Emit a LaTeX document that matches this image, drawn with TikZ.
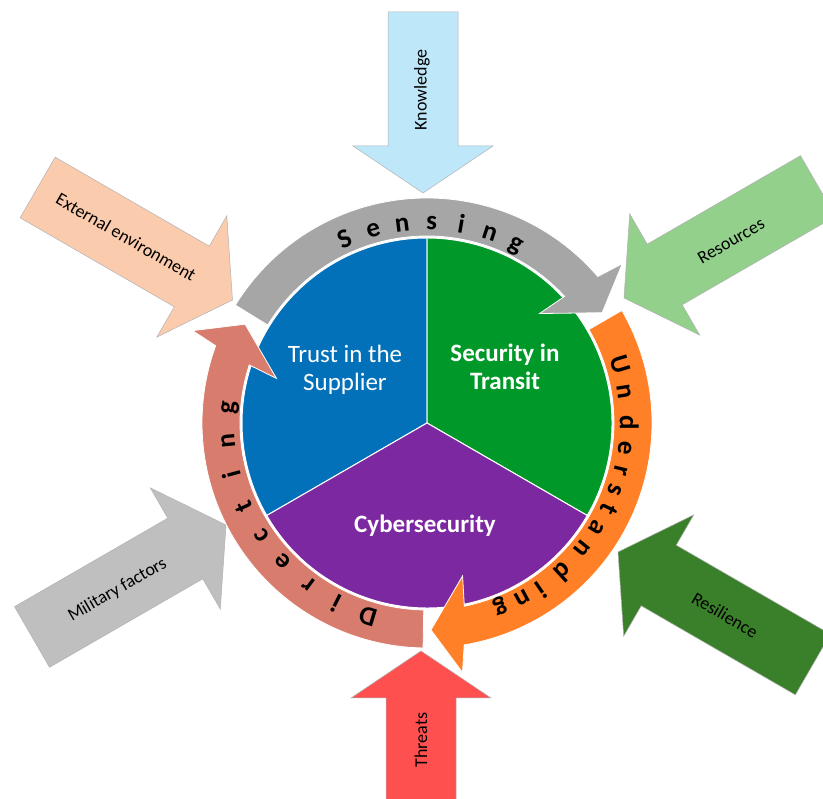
\documentclass[tikz,border=0pt]{standalone}
\usepackage{fontspec}
\setmainfont{Carlito}
\definecolor{knowblue}{RGB}{190,232,250}
\definecolor{extpeach}{RGB}{251,203,173}
\definecolor{resgreen}{RGB}{147,208,140}
\definecolor{milgray}{RGB}{191,191,191}
\definecolor{resilgreen}{RGB}{58,128,42}
\definecolor{threatred}{RGB}{255,80,80}
\definecolor{pieblue}{RGB}{3,113,185}
\definecolor{piegreen}{RGB}{0,153,41}
\definecolor{piepurple}{RGB}{124,40,160}
\definecolor{sensegray}{RGB}{166,166,166}
\definecolor{underorange}{RGB}{255,128,38}
\definecolor{dirsalmon}{RGB}{216,125,110}
% straight block arrow: tip x, tip y, direction, total length, colour
\newcommand\blockarrow[5]{%
  \fill[#5, draw=black!30, line width=0.5pt, shift={(#1,#2)}, rotate=#3]
    (0,0) -- (-47,70) -- (-47,35) -- (-#4,35) -- (-#4,-35) -- (-47,-35) -- (-47,-70) -- cycle;}
% curved band with a head: start angle, angle of the head base, colour
\newcommand\bandarrow[3]{%
  \fill[#3, draw=white, line width=0.8pt]
    (#1:225) arc[start angle=#1, end angle={#2-1.08}, radius=225pt]
    -- ({#2-2.5}:252) -- ({#2-9.5}:207) -- ({#2+2.5}:157) -- ({#2+0.92}:187)
    arc[start angle={#2+0.92}, end angle=#1, radius=187pt] -- cycle;}
\begin{document}
\begin{tikzpicture}[x=1pt, y=1pt,
  arcletter/.style={anchor=base, inner sep=0pt, font=\fontsize{27}{28}\selectfont\bfseries},
  sectortext/.style={text=white, align=center, inner sep=0pt},
  arrowlabel/.style={text=black, inner sep=0pt, font=\fontsize{18}{20}\selectfont},
  sector/.style={draw=white, line width=1pt}]
\useasboundingbox (0,0) rectangle (823,799);
\fill[white] (0,0) rectangle (823,799);
\clip (0,0) rectangle (823,799);

% incoming influences
\blockarrow{423}{606}{-90}{181}{knowblue}
\blockarrow{421}{148}{90}{170}{threatred}
\blockarrow{232.5}{499}{-30}{225}{extpeach}
\blockarrow{624}{501}{210}{224}{resgreen}
\blockarrow{226}{274}{30}{224}{milgray}
\blockarrow{618}{247}{150}{225}{resilgreen}

\node[arrowlabel, rotate=90] (knowledge) at (422,709) {Knowledge};
\node[arrowlabel, rotate=90] (threats) at (421,59) {Threats};
\node[arrowlabel, rotate=-30] (external) at (126,562) {External environment};
\node[arrowlabel, rotate=30] (resources) at (731,558) {Resources};
\node[arrowlabel, rotate=30] (military) at (117.5,209) {Military factors};
\node[arrowlabel, rotate=-30] (resilience) at (725,184) {Resilience};

\begin{scope}[shift={(427,376)}]
  % the three domains
  \fill[pieblue, sector] (0,0) -- (90:185) arc[start angle=90, end angle=210, radius=185pt] -- cycle;
  \fill[piegreen, sector] (0,0) -- (-30:185) arc[start angle=-30, end angle=90, radius=185pt] -- cycle;
  \fill[piepurple, sector] (0,0) -- (210:185) arc[start angle=210, end angle=330, radius=185pt] -- cycle;

  % the cycle around them
  \bandarrow{148.4}{41.7}{sensegray}
  \bandarrow{30}{-79.4}{underorange}
  \bandarrow{269}{161}{dirsalmon}

  \foreach \ch/\a [count=\i] in {S/114, e/105.55, n/97.1, s/88.65, i/80.2, n/71.75, g/63.3}
    \node[arcletter, rotate=\a-90] (sense\i) at (\a:193) {\ch};
  \foreach \ch/\a [count=\i] in {U/16.8, n/8.9, d/0.2, e/-7.2, r/-13.8, s/-19.6, t/-25.3,
      a/-31.7, n/-38.8, d/-47.5, i/-55.6, n/-61.4, g/-68.1}
    \node[arcletter, rotate=\a-90] (under\i) at (\a:193) {\ch};
  \foreach \ch/\a [count=\i] in {D/253, i/243.3, r/233.6, e/223.9, c/214.3, t/204.6,
      i/194.9, n/185.2, g/175.5}
    \node[arcletter, rotate=\a-90] (direct\i) at (\a:193) {\ch};
\end{scope}

\node[sectortext, font=\fontsize{25}{28}\selectfont] (trust) at (345,429) {Trust in the\\Supplier};
\node[sectortext, font=\fontsize{25}{28}\selectfont\bfseries] (transit) at (505,432) {Security in\\Transit};
\node[sectortext, font=\fontsize{25}{28}\selectfont\bfseries] (cyber) at (425,273) {Cybersecurity};
\end{tikzpicture}
\end{document}
